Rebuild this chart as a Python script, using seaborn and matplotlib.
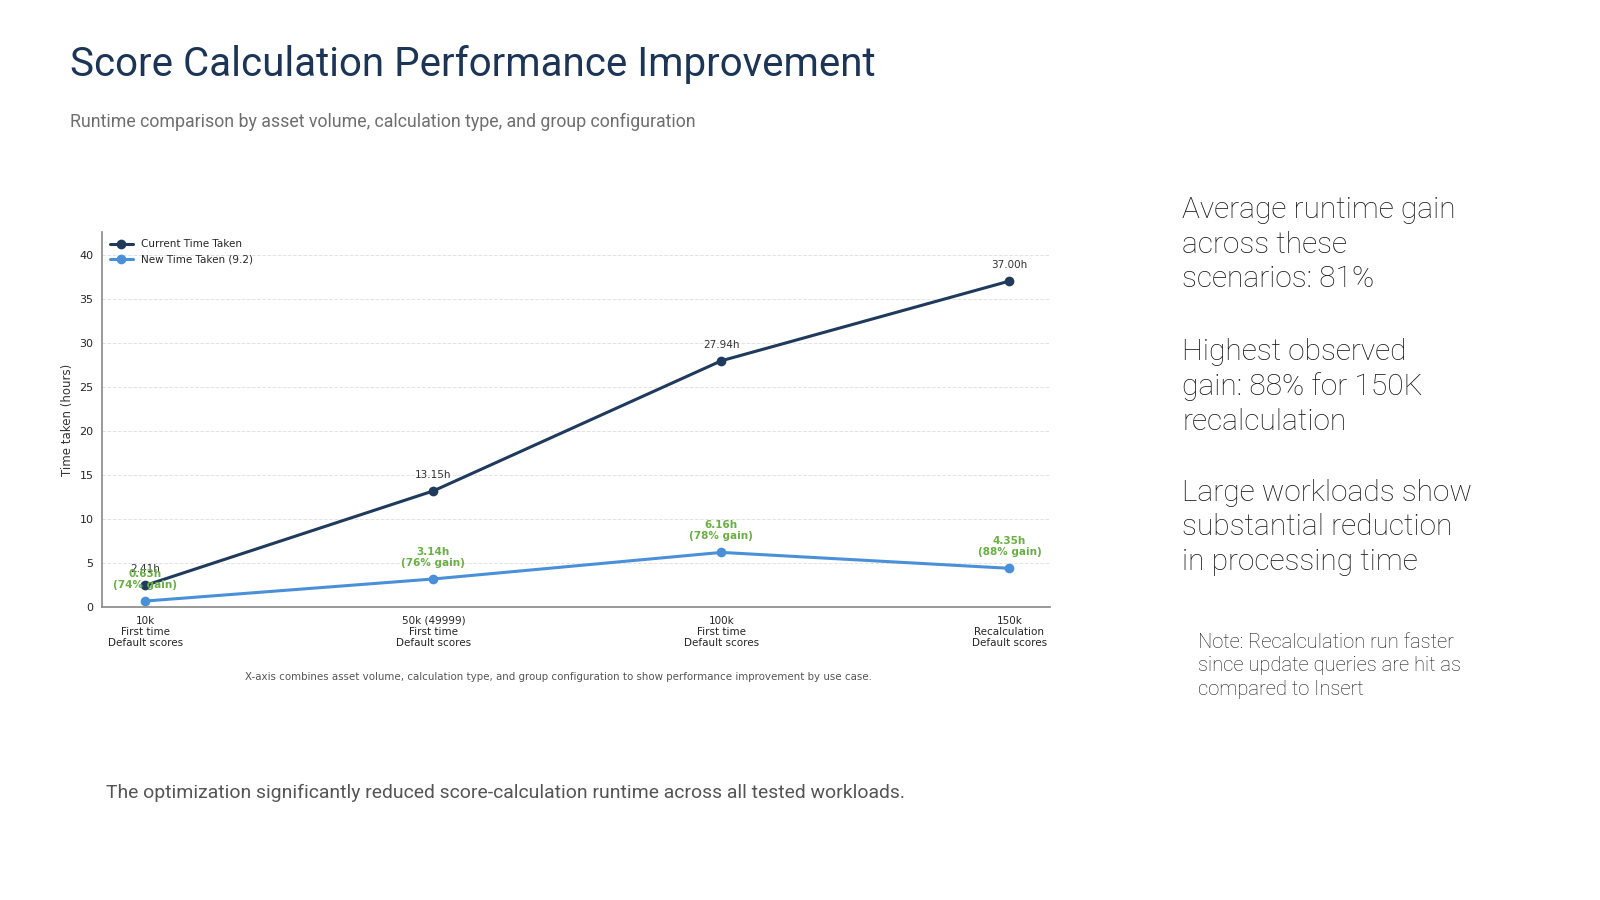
import pandas as pd
import matplotlib.pyplot as plt
import seaborn as sns

# data
scenarios = ['10k\nFirst time\nDefault scores',
             '50k (49999)\nFirst time\nDefault scores',
             '100k\nFirst time\nDefault scores',
             '150k\nRecalculation\nDefault scores']
current_hours = [2.41, 13.15, 27.94, 37.00]
new_hours = [0.63, 3.14, 6.16, 4.35]
gain_pct = [74, 76, 78, 88]

series_names = ['Current Time Taken', 'New Time Taken (9.2)']

df = pd.DataFrame({
    'pos': list(range(len(scenarios))) * 2,
    'hours': current_hours + new_hours,
    'series': [series_names[0]] * len(scenarios) + [series_names[1]] * len(scenarios),
})

sns.set_style('white')
plt.rcParams['font.family'] = ['DejaVu Sans']

navy = '#1f3a5c'
blue = '#4a90d9'
green = '#6aaf45'
sans = ['Roboto', 'DejaVu Sans']

fig = plt.figure(figsize=(16, 9), dpi=100)
ax = fig.add_axes([0.064, 0.326, 0.5925, 0.416])

sns.lineplot(data=df, x='pos', y='hours', hue='series',
             palette={series_names[0]: navy, series_names[1]: blue},
             marker='o', markersize=7, markeredgewidth=0,
             linewidth=2.2, ax=ax)

for i, v in enumerate(current_hours):
    ax.annotate(f'{v:.2f}h', (i, v), xytext=(0, 8), textcoords='offset points',
                ha='center', va='bottom', fontsize=7.5, color='#333333')
for i, (v, g) in enumerate(zip(new_hours, gain_pct)):
    ax.annotate(f'{v:.2f}h\n({g}% gain)', (i, v), xytext=(0, 8),
                textcoords='offset points', ha='center', va='bottom',
                fontsize=7.5, color=green, fontweight='bold', linespacing=1.1)

ax.set_xlim(-0.149, 3.142)
ax.set_ylim(0, 42.55)
ax.set_xticks(range(len(scenarios)))
ax.set_xticklabels(scenarios, fontsize=7.5, linespacing=1.15)
ax.set_yticks(range(0, 41, 5))
ax.tick_params(axis='y', labelsize=8, length=3, color='#888888')
ax.tick_params(axis='x', length=3, color='#888888')
ax.set_xlabel('')
ax.set_ylabel('Time taken (hours)', fontsize=8.5, color='#333333')
ax.grid(axis='y', linestyle='--', color='#e3e3e3', linewidth=0.7)
for s in ['top', 'right']:
    ax.spines[s].set_visible(False)
for s in ['left', 'bottom']:
    ax.spines[s].set_color('#888888')
    ax.spines[s].set_linewidth(1.2)

ax.legend(loc='upper left', frameon=False, fontsize=7.5,
          handlelength=2.2, borderaxespad=0.3, labelspacing=0.45)

fig.text(0.349, 0.248,
         'X-axis combines asset volume, calculation type, and group configuration '
         'to show performance improvement by use case.',
         ha='center', va='center', fontsize=7.35, color='#555555')

# header
fig.text(0.044, 0.928, 'Score Calculation Performance Improvement',
         fontsize=29, color='#1c3557', family=sans, va='center')
fig.text(0.044, 0.864,
         'Runtime comparison by asset volume, calculation type, and group configuration',
         fontsize=12.75, color='#6f6f6f', family=sans, va='center')

# side notes
side = ['Average runtime gain\nacross these\nscenarios: 81%',
        'Highest observed\ngain: 88% for 150K\nrecalculation',
        'Large workloads show\nsubstantial reduction\nin processing time']
for k, txt in enumerate(side):
    fig.text(0.739, 0.782 - k * 0.157, txt, fontsize=21.5, color='#161616',
             family=sans, fontweight='light', va='top', linespacing=1.3)

fig.text(0.749, 0.297,
         'Note: Recalculation run faster\nsince update queries are hit as\ncompared to Insert',
         fontsize=14.5, color='#161616', family=sans,
         fontweight='light', va='top', linespacing=1.3)

fig.text(0.066, 0.119,
         'The optimization significantly reduced score-calculation runtime across all tested workloads.',
         fontsize=13.95, color='#555555', family=sans, va='center')

fig.savefig('out.png', dpi=100, facecolor='white')
